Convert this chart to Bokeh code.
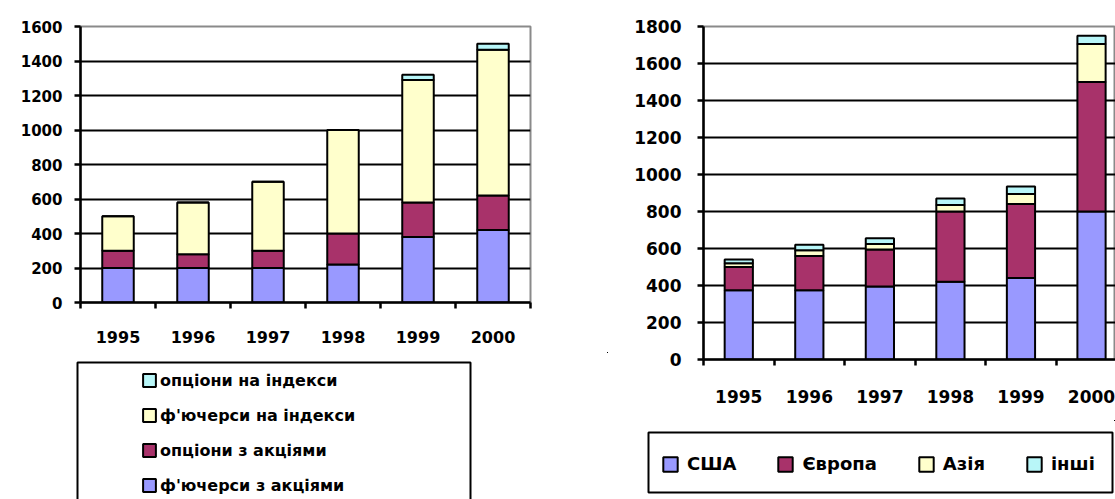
from bokeh.plotting import figure
from bokeh.models import (Range1d, FixedTicker, ColumnDataSource, Legend, LegendItem,
                          BoxAnnotation)
from bokeh.layouts import row, column
from bokeh.embed import file_html
from bokeh.resources import INLINE

# ---------------- data ----------------
years = ["1995", "1996", "1997", "1998", "1999", "2000"]

# left chart (stacked, bottom to top)
stock_futures = [200, 200, 200, 220, 380, 420]   # ф'ючерси з акціями
stock_options = [100, 80, 100, 180, 200, 200]    # опціони з акціями
index_futures = [200, 300, 400, 600, 710, 845]   # ф'ючерси на індекси
index_options = [0, 0, 0, 0, 30, 35]             # опціони на індекси
left_names = ["ф'ючерси з акціями", "опціони з акціями",
              "ф'ючерси на індекси", "опціони на індекси"]
left_ticks = [0, 200, 400, 600, 800, 1000, 1200, 1400, 1600]

# right chart (stacked, bottom to top)
usa = [375, 375, 395, 420, 440, 800]
europe = [125, 185, 200, 380, 400, 700]
asia = [20, 30, 30, 35, 55, 205]
other = [20, 30, 30, 35, 40, 45]
right_names = ["США", "Європа", "Азія", "інші"]
right_ticks = [0, 200, 400, 600, 800, 1000, 1200, 1400, 1600, 1800]

colors = ["#9999FF", "#A8326A", "#FFFFCC", "#B8F6F8"]
FONT = "DejaVu Sans"
stackers = ["a", "b", "c", "d"]

xs = list(range(1, len(years) + 1))
bounds = [i + 0.5 for i in range(0, len(years) + 1)]


def style(p, yticks, tick_size, x_size, y_standoff, x_standoff):
    p.background_fill_color = "white"
    p.border_fill_color = "white"
    p.outline_line_color = "#8a8a8a"
    p.outline_line_width = 2
    p.xgrid.visible = False
    p.ygrid.ticker = FixedTicker(ticks=yticks[1:-1])
    p.ygrid.grid_line_color = "black"
    p.ygrid.grid_line_width = 2

    ya = p.yaxis[0]
    ya.ticker = FixedTicker(ticks=yticks)
    ya.axis_line_color = "black"
    ya.axis_line_width = 2.5
    ya.major_tick_line_color = "black"
    ya.major_tick_line_width = 2.5
    ya.major_tick_out = 6
    ya.major_tick_in = 0
    ya.minor_tick_line_color = None
    ya.major_label_text_font = FONT
    ya.major_label_text_font_style = "bold"
    ya.major_label_text_font_size = tick_size
    ya.major_label_text_color = "black"
    ya.major_label_standoff = y_standoff

    xa = p.xaxis[0]
    xa.ticker = FixedTicker(ticks=xs, minor_ticks=bounds)
    xa.major_label_overrides = {x: y for x, y in zip(xs, years)}
    xa.axis_line_color = "black"
    xa.axis_line_width = 2.5
    xa.major_tick_line_color = None
    xa.major_tick_out = 0
    xa.major_tick_in = 0
    xa.minor_tick_line_color = "black"
    xa.minor_tick_line_width = 2.5
    xa.minor_tick_out = 6
    xa.minor_tick_in = 0
    xa.major_label_text_font = FONT
    xa.major_label_text_font_style = "bold"
    xa.major_label_text_font_size = x_size
    xa.major_label_text_color = "black"
    xa.major_label_standoff = x_standoff


def legend_fig(w, h):
    f = figure(width=w, height=h, x_range=Range1d(0, w), y_range=Range1d(h, 0),
               output_backend="svg", toolbar_location=None,
               x_axis_location=None, y_axis_location=None,
               min_border_left=0, min_border_right=0, min_border_top=0, min_border_bottom=0)
    f.grid.visible = False
    f.outline_line_color = None
    f.background_fill_color = "white"
    f.border_fill_color = "white"
    # ranges that keep the legend proxy bars outside the canvas (above / right)
    f.extra_x_ranges = {"offx": Range1d(-16, -10)}
    f.extra_y_ranges = {"offy": Range1d(-4000, -3000)}
    return f


def proxies(f, src, width):
    return [f.vbar(x="x", top=s, width=width, source=src,
                   x_range_name="offx", y_range_name="offy",
                   fill_color=c, line_color="black", line_width=2)
            for s, c in zip(stackers, colors)]


# ---------------- left chart ----------------
p1 = figure(width=608, height=352, x_range=Range1d(0.5, 6.5), y_range=Range1d(0, 1600),
            output_backend="svg", toolbar_location=None,
            min_border_left=80, min_border_right=78, min_border_top=26, min_border_bottom=50)
style(p1, left_ticks, "15px", "16px", 12, 22)

src1 = ColumnDataSource(dict(x=xs, a=stock_futures, b=stock_options, c=index_futures, d=index_options))
p1.vbar_stack(stackers, x="x", width=0.42, source=src1,
              fill_color=colors, line_color="black", line_width=2)

l1 = legend_fig(608, 147)
proxy1 = proxies(l1, src1, 0.42)
items1 = [LegendItem(label=n, renderers=[r]) for n, r in zip(left_names, proxy1)][::-1]
l1.add_layout(Legend(items=items1, location=(141, 4), orientation="vertical",
                     glyph_width=16, glyph_height=16, label_height=20, spacing=15,
                     padding=0, margin=0, label_standoff=3,
                     border_line_alpha=0, background_fill_alpha=0,
                     label_text_font=FONT, label_text_font_style="bold",
                     label_text_font_size="16px", label_text_color="black"), "center")
l1.add_layout(BoxAnnotation(left=77, right=470, top=10, bottom=170,
                            fill_alpha=0, line_color="black", line_width=2, line_alpha=1))

# ---------------- right chart ----------------
p2 = figure(width=507, height=420, x_range=Range1d(0.5, 6.34), y_range=Range1d(0, 1800),
            output_backend="svg", toolbar_location=None,
            min_border_left=95, min_border_right=0, min_border_top=26, min_border_bottom=61)
style(p2, right_ticks, "17px", "17px", 16, 24)

src2 = ColumnDataSource(dict(x=xs, a=usa, b=europe, c=asia, d=other))
p2.vbar_stack(stackers, x="x", width=0.40, source=src2,
              fill_color=colors, line_color="black", line_width=2)

l2 = legend_fig(507, 79)
proxy2 = proxies(l2, src2, 0.40)
items2 = [LegendItem(label=n, renderers=[r]) for n, r in zip(right_names, proxy2)]
l2.add_layout(Legend(items=items2, location=(53, 25), orientation="horizontal",
                     glyph_width=18, glyph_height=18, label_height=20, spacing=40,
                     padding=0, margin=0, label_standoff=8,
                     border_line_alpha=0, background_fill_alpha=0,
                     label_text_font=FONT, label_text_font_style="bold",
                     label_text_font_size="18px", label_text_color="black"), "center")
l2.add_layout(BoxAnnotation(left=40, right=504, top=12, bottom=72,
                            fill_alpha=0, line_color="black", line_width=2, line_alpha=1))

layout = row(column(p1, row(l1)), column(p2, row(l2)))
open("out.html", "w").write(file_html(layout, INLINE))
